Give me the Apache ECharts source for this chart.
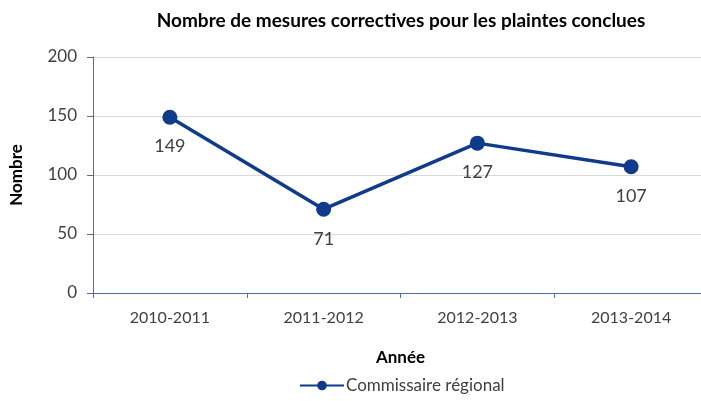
<!DOCTYPE html>
<html>
<head>
<meta charset="utf-8">
<script src="https://cdn.jsdelivr.net/npm/echarts@6/dist/echarts.min.js"></script>
<style>
  html, body { margin: 0; padding: 0; background: #fff; overflow: hidden; }
  #chart { width: 712px; height: 401px; }
</style>
</head>
<body>
<div id="chart"></div>
<script>
// données du graphique
const annees = ['2010-2011', '2011-2012', '2012-2013', '2013-2014']
const mesures = [149, 71, 127, 107]
const nomSerie = 'Commissaire régional'

const chart = echarts.init(document.getElementById('chart'))
const police = 'Lato, "Open Sans", sans-serif'

chart.setOption({
  animation: false,
  title: {
    text: 'Nombre de mesures correctives pour les plaintes conclues',
    left: 396,
    textAlign: 'center',
    top: 6,
    textStyle: { fontFamily: police, fontSize: 19, fontWeight: 'bold', color: '#000' }
  },
  legend: {
    bottom: 2,
    left: 294,
    itemWidth: 44,
    itemHeight: 12,
    textStyle: { fontFamily: police, fontSize: 17, color: '#404040', padding: [0, 0, 0, -3] },
    data: [nomSerie]
  },
  grid: { left: 92, top: 57, width: 616, height: 236 },
  xAxis: {
    type: 'category',
    data: annees,
    name: 'Année',
    nameLocation: 'middle',
    nameGap: 56,
    nameTextStyle: { fontFamily: police, fontSize: 17, fontWeight: 'bold', color: '#000' },
    axisLine: { lineStyle: { color: '#4a6fa5', width: 1 } },
    axisTick: { show: true, length: 5, lineStyle: { color: '#4a6fa5' } },
    axisLabel: { fontFamily: police, fontSize: 16, color: '#404040', margin: 17 }
  },
  yAxis: {
    type: 'value',
    min: 0,
    max: 200,
    interval: 50,
    name: 'Nombre',
    nameLocation: 'middle',
    nameGap: 68,
    nameTextStyle: { fontFamily: police, fontSize: 17, fontWeight: 'bold', color: '#000' },
    axisLine: { show: true, lineStyle: { color: '#4a6fa5', width: 1 } },
    axisTick: { show: true, length: 6, inside: false, lineStyle: { color: '#4a6fa5' } },
    axisLabel: { fontFamily: police, fontSize: 17, color: '#404040', margin: 16 },
    splitLine: { lineStyle: { color: '#d9d9d9' } }
  },
  series: [{
    name: nomSerie,
    type: 'line',
    data: mesures,
    symbol: 'circle',
    symbolSize: 15,
    lineStyle: { color: '#0f3b8a', width: 3.5 },
    itemStyle: { color: '#0f3b8a' },
    label: {
      show: true,
      position: 'bottom',
      distance: 13,
      fontFamily: police,
      fontSize: 18,
      color: '#404040'
    }
  }]
})
</script>
</body>
</html>
